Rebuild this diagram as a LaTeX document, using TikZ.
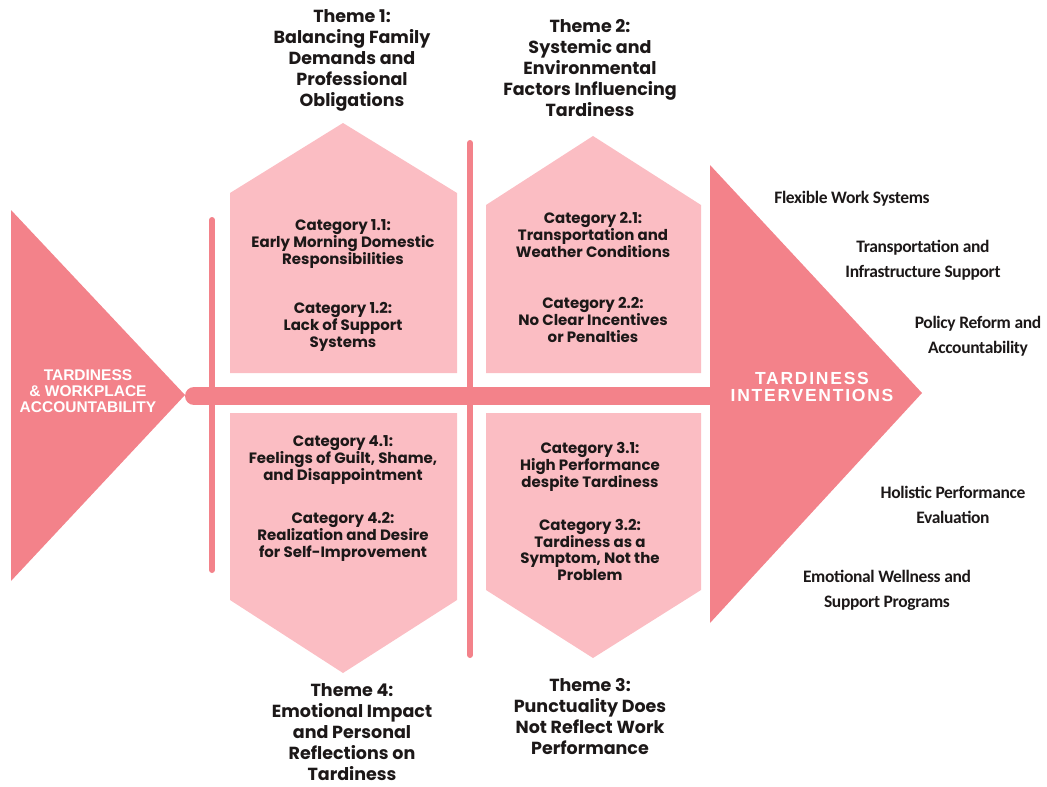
\documentclass[tikz,border=0pt]{standalone}
\usepackage{fontspec}
\setmainfont{Poppins}
\newfontfamily\capsfont{Liberation Sans}
\newfontfamily\spacedcaps[LetterSpace=10]{Liberation Sans}
\newfontfamily\listfont[LetterSpace=-2]{Carlito}

\definecolor{rosedark}{RGB}{243,130,138}
\definecolor{roselight}{RGB}{251,189,195}
\definecolor{inktext}{RGB}{28,24,24}

\tikzset{
  theme/.style={align=center, text=inktext, font=\bfseries\fontsize{17.5}{21}\selectfont},
  category/.style={align=center, text=inktext, font=\bfseries\fontsize{15}{16.8}\selectfont},
  remedy/.style={align=center, text=inktext, font=\listfont\bfseries\fontsize{17.5}{25}\selectfont},
  bone/.style={rosedark, line cap=round},
}

\begin{document}
\begin{tikzpicture}[x=1pt, y=-1pt]
	\useasboundingbox (0,0) rectangle (1047,787);

	% head and tail of the fish
	\fill[rosedark] (11,210) -- (185,395) -- (11,581) -- cycle;
	\fill[rosedark] (710,165) -- (922,393) -- (710,623) -- cycle;

	% spine and ribs
	\draw[bone, line width=18pt] (194,396) -- (712,396);
	\draw[bone, line width=6pt] (212,220) -- (212,570);
	\draw[bone, line width=6pt] (470,143) -- (470,655);

	% category panels
	\fill[roselight] (230,373) -- (230,193) -- (343,123) -- (457,193) -- (457,373) -- cycle;
	\fill[roselight] (486,373) -- (486,205) -- (593,136) -- (701,205) -- (701,373) -- cycle;
	\fill[roselight] (230,413) -- (230,600) -- (343,673) -- (457,600) -- (457,413) -- cycle;
	\fill[roselight] (486,413) -- (486,590) -- (593,658) -- (701,590) -- (701,413) -- cycle;

	\node[align=center, text=white, font=\capsfont\bfseries\fontsize{15.5}{16}\selectfont] (tail) at (88,391)
		{TARDINESS\\ \& WORKPLACE\\ ACCOUNTABILITY};
	\node[align=center, text=white, font=\spacedcaps\bfseries\fontsize{17.5}{17.5}\selectfont] (head) at (812,387)
		{TARDINESS\\INTERVENTIONS};

	% themes
	\node[theme] (t1) at (352,60) {Theme 1:\\Balancing Family\\Demands and\\Professional\\Obligations};
	\node[theme] (t2) at (590,68) {Theme 2:\\Systemic and\\Environmental\\Factors Influencing\\Tardiness};
	\node[theme] (t3) at (590,717) {Theme 3:\\Punctuality Does\\Not Reflect Work\\Performance};
	\node[theme] (t4) at (352,732) {Theme 4:\\Emotional Impact\\and Personal\\Reflections on\\Tardiness};

	% categories
	\node[category] (c11) at (343,244) {Category 1.1:\\Early Morning Domestic\\Responsibilities};
	\node[category] (c12) at (343,327) {Category 1.2:\\Lack of Support\\Systems};
	\node[category] (c21) at (593,235) {Category 2.1:\\Transportation and\\Weather Conditions};
	\node[category] (c22) at (593,320) {Category 2.2:\\No Clear Incentives\\or Penalties};
	\node[category] (c31) at (590,467) {Category 3.1:\\High Performance\\despite Tardiness};
	\node[category] (c32) at (590,550) {Category 3.2:\\Tardiness as a\\Symptom, Not the\\Problem};
	\node[category] (c41) at (343,460) {Category 4.1:\\Feelings of Guilt, Shame,\\and Disappointment};
	\node[category] (c42) at (343,537) {Category 4.2:\\Realization and Desire\\for Self-Improvement};

	% interventions
	\node[remedy] (r1) at (852,199) {Flexible Work Systems};
	\node[remedy] (r2) at (923,260) {Transportation and\\Infrastructure Support};
	\node[remedy] (r3) at (978,336) {Policy Reform and\\Accountability};
	\node[remedy] (r4) at (953,505) {Holistic Performance\\Evaluation};
	\node[remedy] (r5) at (887,590) {Emotional Wellness and\\Support Programs};
\end{tikzpicture}
\end{document}
